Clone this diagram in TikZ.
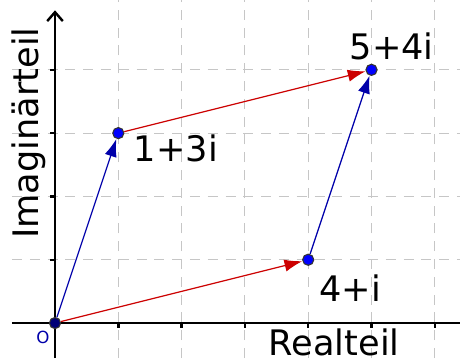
\documentclass[tikz,border=0pt]{standalone}
\usepackage{fontspec}
\setmainfont{DejaVu Sans}
\usepackage{xcolor}
\usetikzlibrary{arrows.meta,positioning,calc}

\definecolor{vecred}{HTML}{CC0000}
\definecolor{vecblue}{HTML}{0000AA}
\definecolor{ptblue}{HTML}{0000FF}

\begin{document}
\begin{tikzpicture}[
    gridline/.style={gray!45, dashed, dash pattern=on 4.5pt off 3.5pt, line width=0.5pt},
    axis/.style={line width=1.1pt},
    vec/.style={-{Latex[length=8pt,width=5.5pt]}, line width=0.55pt},
    pt/.style={circle, fill=ptblue, draw=black!80, line width=0.5pt, inner sep=0pt, minimum size=5pt},
    lbl/.style={font=\fontsize{15.8}{18}\selectfont, inner sep=0pt}
]
\useasboundingbox (-0.869,-0.553) rectangle (6.398,5.103);

% Grid
\foreach \x in {1,...,6}
    \draw[gridline] (\x,-0.553) -- (\x,5.103);
\foreach \y in {1,...,4}
    \draw[gridline] (-0.68,\y) -- (6.398,\y);

% Axes and ticks
\draw[axis] (-0.68,0) -- (6.398,0);
\draw[axis, -{Straight Barb[length=4pt,width=7pt]}] (0,-0.553) -- (0,4.94);
\foreach \x in {1,...,6}
    \draw[axis] (\x,0) -- (\x,-0.08);
\foreach \y in {1,...,4}
    \draw[axis] (0,\y) -- (-0.08,\y);

% Points
\node[pt, fill=vecblue!70!black] (p0) at (0,0) {};
\node[pt] (p13) at (1,3) {};
\node[pt] (p41) at (4,1) {};
\node[pt] (p54) at (5,4) {};

% Vectors
\draw[vec, vecblue] (p0) -- (p13);
\draw[vec, vecred] (p0) -- (p41);
\draw[vec, vecred] (p13) -- (p54);
\draw[vec, vecblue] (p41) -- (p54);

% Labels
\node[lbl] (l13) at (1.91,2.76) {1+3i};
\node[lbl] (l41) at (4.66,0.55) {4+i};
\node[lbl] (l54) at (5.32,4.37) {5+4i};
\node[lbl] (re) at (4.41,-0.31) {Realteil};
\node[lbl, rotate=90] (im) at (-0.42,3.0) {Imaginärteil};
\node[font=\fontsize{7.5}{9}\selectfont, text=vecblue, inner sep=0pt] (o) at (-0.19,-0.22) {O};

\end{tikzpicture}
\end{document}
